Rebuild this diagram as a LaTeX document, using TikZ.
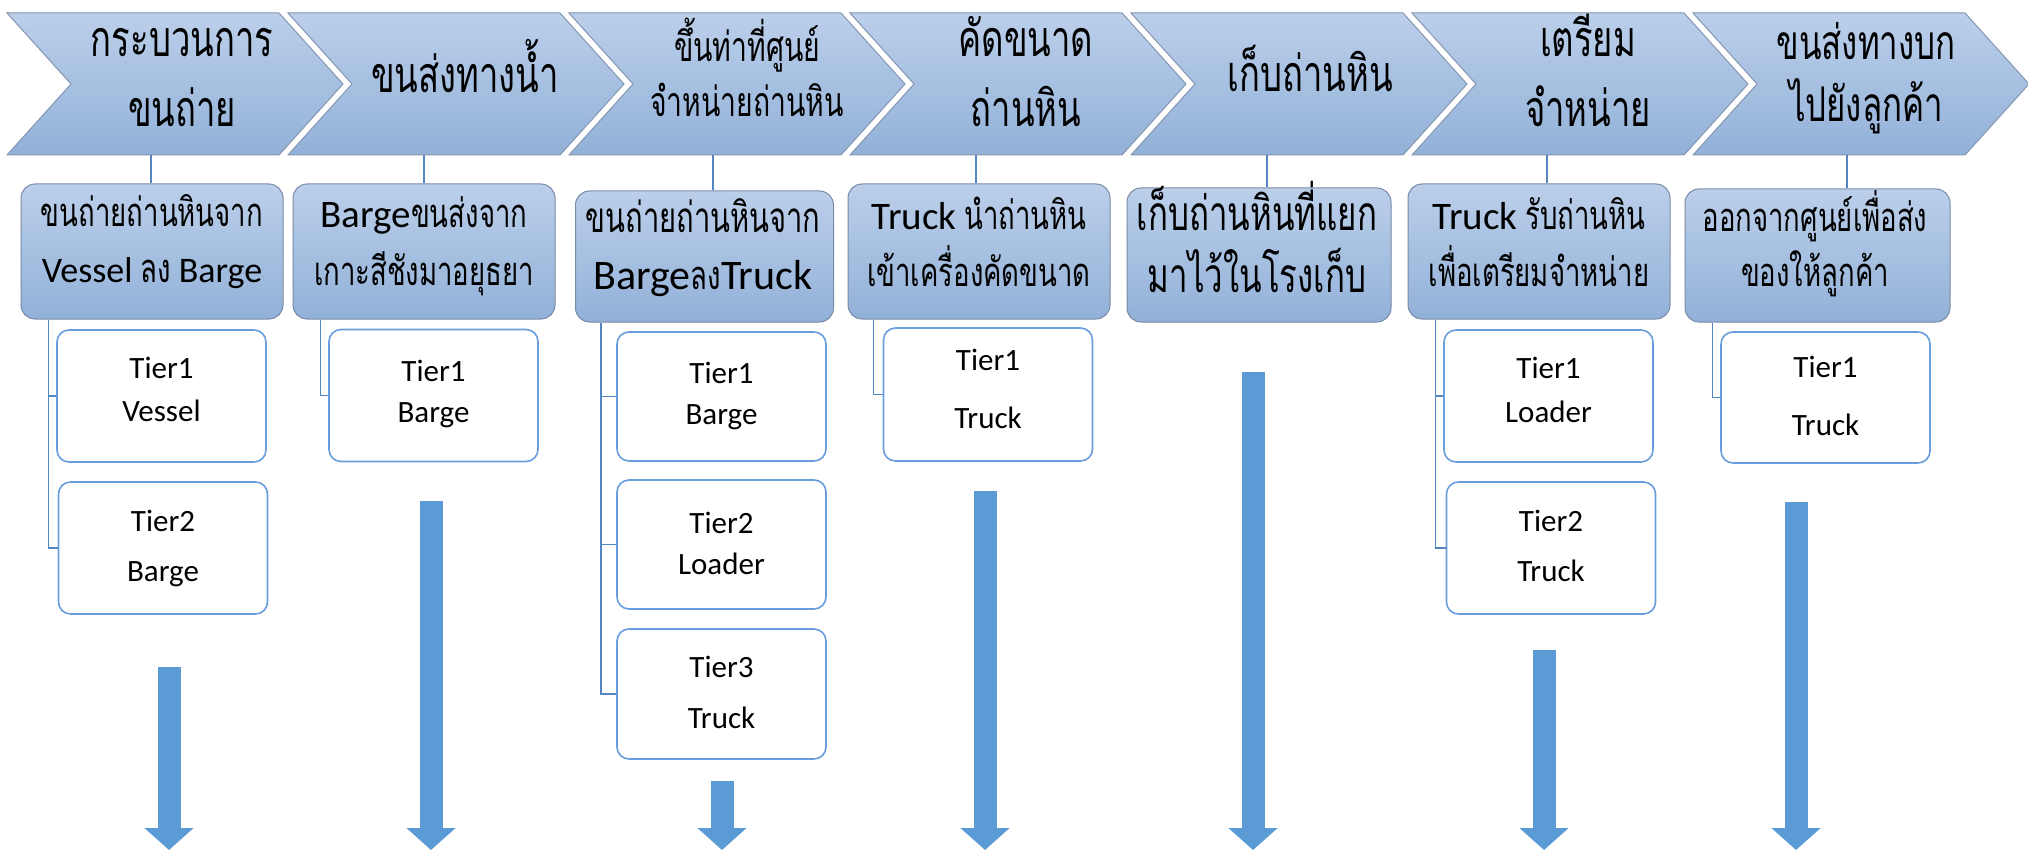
\documentclass[tikz,border=0pt]{standalone}
\usepackage{fontspec}
\setmainfont{Carlito}
\newfontfamily\thaifont[Script=Thai,Scale=1.14,FakeStretch=0.69]{Loma}
\usepackage{xcolor}
\usepackage{tikz}
\usetikzlibrary{arrows.meta}
\definecolor{chevtop}{RGB}{187,207,234}
\definecolor{chevbot}{RGB}{146,177,216}
\definecolor{chevedge}{RGB}{132,150,178}
\definecolor{boxedge}{RGB}{120,138,166}
\definecolor{tierline}{RGB}{104,158,221}
\definecolor{connline}{RGB}{84,134,194}
\definecolor{arrowblue}{RGB}{91,155,213}
\newcommand{\thtxt}[1]{{\thaifont #1}}
\newcommand{\lat}[2][39]{{\fontsize{#1}{55}\selectfont #2}}

\begin{document}
\begin{tikzpicture}[x=1pt,y=-1pt,
		chev/.style={top color=chevtop,bottom color=chevbot,draw=chevedge,line width=1pt},
		chevtxt/.style={anchor=base,align=center,font=\thaifont\fontsize{44}{70}\selectfont},
		lvlbox/.style={rectangle,rounded corners=14pt,minimum width=262pt,minimum height=135pt,top color=chevtop,bottom color=chevbot,draw=boxedge,line width=1pt,inner sep=0pt},
		boxtxt/.style={anchor=base,align=center,font=\fontsize{35}{55}\selectfont},
		tierbox/.style={rectangle,rounded corners=12pt,minimum width=209pt,minimum height=132pt,fill=white,draw=tierline,line width=1.6pt,inner sep=0pt},
		tiertxt/.style={anchor=base,align=center,font=\fontsize{31}{41}\selectfont},
		conn/.style={draw=connline,line width=1.3pt},
		bigarrow/.style={draw=arrowblue,line width=23pt,-{Triangle[length=22pt,width=48pt]}}]
				\useasboundingbox (0,0) rectangle (2028,850);
				
				\path[chev] (7,13) -- ++(272,0) -- ++(64,71) -- ++(-64,71) -- ++(-272,0) -- ++(64,-71) -- cycle;%1
				\path[chev] (288,13) -- ++(272,0) -- ++(64,71) -- ++(-64,71) -- ++(-272,0) -- ++(64,-71) -- cycle;%2
				\path[chev] (569,13) -- ++(272,0) -- ++(64,71) -- ++(-64,71) -- ++(-272,0) -- ++(64,-71) -- cycle;%3
				\path[chev] (850,13) -- ++(272,0) -- ++(64,71) -- ++(-64,71) -- ++(-272,0) -- ++(64,-71) -- cycle;%4
				\path[chev] (1131,13) -- ++(272,0) -- ++(64,71) -- ++(-64,71) -- ++(-272,0) -- ++(64,-71) -- cycle;%5
				\path[chev] (1412,13) -- ++(272,0) -- ++(64,71) -- ++(-64,71) -- ++(-272,0) -- ++(64,-71) -- cycle;%6
				\path[chev] (1693,13) -- ++(272,0) -- ++(64,71) -- ++(-64,71) -- ++(-272,0) -- ++(64,-71) -- cycle;%7
				
				% base = baseline of the last line
				\node[chevtxt] (c1) at (182,127) {กระบวนการ\\ขนถ่าย};
				\node[chevtxt] (c2) at (465,93) {ขนส่งทางน้ำ};
				\node[chevtxt,font=\thaifont\fontsize{36}{55}\selectfont] (c3) at (747,117) {ขึ้นท่าที่ศูนย์\\จำหน่ายถ่านหิน};
				\node[chevtxt] (c4) at (1026,127) {คัดขนาด\\ถ่านหิน};
				\node[chevtxt] (c5) at (1310,92) {เก็บถ่านหิน};
				\node[chevtxt] (c6) at (1588,127) {เตรียม\\จำหน่าย};
				\node[chevtxt,font=\thaifont\fontsize{42}{62}\selectfont] (c7) at (1866,122) {ขนส่งทางบก\\ไปยังลูกค้า};
				
				\coordinate (k1) at (151,155);
				\coordinate (k2) at (424,155);
				\coordinate (k3) at (713,155);
				\coordinate (k4) at (976,155);
				\coordinate (k5) at (1267,155);
				\coordinate (k6) at (1547,155);
				\coordinate (k7) at (1847,155);
				
				\node[lvlbox] (b1) at (152,251.5) {};
				\node[lvlbox] (b2) at (424,251.5) {};
				\node[lvlbox,minimum width=258pt,minimum height=131pt] (b3) at (704.5,256.5) {};
				\node[lvlbox] (b4) at (979,251.5) {};
				\node[lvlbox,minimum width=264pt,minimum height=134pt] (b5) at (1259,255) {};
				\node[lvlbox] (b6) at (1539,251.5) {};
				\node[lvlbox,minimum width=265pt,minimum height=133pt] (b7) at (1817.5,255.5) {};
				
				\node[boxtxt] (b1t) at (152,282) {\thtxt{ขนถ่ายถ่านหินจาก}\\\lat[36]{Vessel} \thtxt{ลง} \lat[36]{Barge}};
				\node[boxtxt] (b2t) at (424,285) {\lat{Barge}\thtxt{ขนส่งจาก}\\[3pt]\thtxt{เกาะสีชังมาอยุธยา}};
				\node[boxtxt] (b3t) at (703,290) {\thtxt{\fontsize{37}{55}\selectfont ขนถ่ายถ่านหินจาก}\\[2pt]\lat[42]{Barge}\thtxt{ลง}\lat[42]{Truck}};
				\node[boxtxt] (b4t) at (979,287) {\lat{Truck} \thtxt{นำถ่านหิน}\\[2pt]\thtxt{เข้าเครื่องคัดขนาด}};
				\node[boxtxt,font=\fontsize{42}{62}\selectfont] (b5t) at (1257,292) {\thtxt{เก็บถ่านหินที่แยก}\\\thtxt{มาไว้ในโรงเก็บ}};
				\node[boxtxt] (b6t) at (1539,287) {\lat{Truck} \thtxt{รับถ่านหิน}\\[2pt]\thtxt{เพื่อเตรียมจำหน่าย}};
				\node[boxtxt] (b7t) at (1815,287) {\thtxt{ออกจากศูนย์เพื่อส่ง}\\\thtxt{ของให้ลูกค้า}};
				
				\draw[conn] (k1) -- (k1 |- b1.north);
				\draw[conn] (k2) -- (k2 |- b2.north);
				\draw[conn] (k3) -- (k3 |- b3.north);
				\draw[conn] (k4) -- (k4 |- b4.north);
				\draw[conn] (k5) -- (k5 |- b5.north);
				\draw[conn] (k6) -- (k6 |- b6.north);
				\draw[conn] (k7) -- (k7 |- b7.north);
				
				\node[tierbox] (t11) at (161.5,396) {};
				\node[tierbox] (t12) at (163,548) {};
				\node[tierbox] (t21) at (433.5,395.5) {};
				\node[tierbox,minimum height=129pt] (t31) at (721.5,396.5) {};
				\node[tierbox,minimum height=129pt] (t32) at (721.5,544.5) {};
				\node[tierbox,minimum height=130pt] (t33) at (721.5,694) {};
				\node[tierbox,minimum height=133pt] (t41) at (988,394.5) {};
				\node[tierbox] (t61) at (1548.5,396) {};
				\node[tierbox] (t62) at (1551,548) {};
				\node[tierbox,minimum height=131pt] (t71) at (1825.5,397.5) {};
				
				\node[tiertxt] (t11t) at (161.5,421) {Tier1\\[2pt]Vessel};
				\node[tiertxt] (t12t) at (163,581) {Tier2\\[9pt]Barge};
				\node[tiertxt] (t21t) at (433.5,422) {Tier1\\Barge};
				\node[tiertxt] (t31t) at (721.5,424) {Tier1\\Barge};
				\node[tiertxt] (t32t) at (721.5,574) {Tier2\\Loader};
				\node[tiertxt] (t33t) at (721.5,728) {Tier3\\[10pt]Truck};
				\node[tiertxt] (t41t) at (988,428) {Tier1\\[17pt]Truck};
				\node[tiertxt] (t61t) at (1548.5,422) {Tier1\\[3pt]Loader};
				\node[tiertxt] (t62t) at (1551,581) {Tier2\\[9pt]Truck};
				\node[tiertxt] (t71t) at (1825.5,435) {Tier1\\[17pt]Truck};
				
				\draw[conn] ([xshift=28pt]b1.south west) |- (t11.west);
				\draw[conn] ([xshift=28pt]b1.south west) |- (t12.west);
				\draw[conn] ([xshift=28pt]b2.south west) |- (t21.west);
				\draw[conn] ([xshift=26pt]b3.south west) |- (t31.west);
				\draw[conn] ([xshift=26pt]b3.south west) |- (t32.west);
				\draw[conn] ([xshift=26pt]b3.south west) |- (t33.west);
				\draw[conn] ([xshift=26pt]b4.south west) |- (t41.west);
				\draw[conn] ([xshift=28pt]b6.south west) |- (t61.west);
				\draw[conn] ([xshift=28pt]b6.south west) |- (t62.west);
				\draw[conn] ([xshift=28pt]b7.south west) |- (t71.west);
				
				\coordinate (base) at (0,850);
				\coordinate (a1) at (169,667);
				\coordinate (a2) at (431,501);
				\coordinate (a3) at (722,781);
				\coordinate (a4) at (985,491);
				\coordinate (a5) at (1253,372);
				\coordinate (a6) at (1544,650);
				\coordinate (a7) at (1796,502);
				\draw[bigarrow] (a1) -- (a1 |- base);
				\draw[bigarrow] (a2) -- (a2 |- base);
				\draw[bigarrow] (a3) -- (a3 |- base);
				\draw[bigarrow] (a4) -- (a4 |- base);
				\draw[bigarrow] (a5) -- (a5 |- base);
				\draw[bigarrow] (a6) -- (a6 |- base);
				\draw[bigarrow] (a7) -- (a7 |- base);
			\end{tikzpicture}
\end{document}
